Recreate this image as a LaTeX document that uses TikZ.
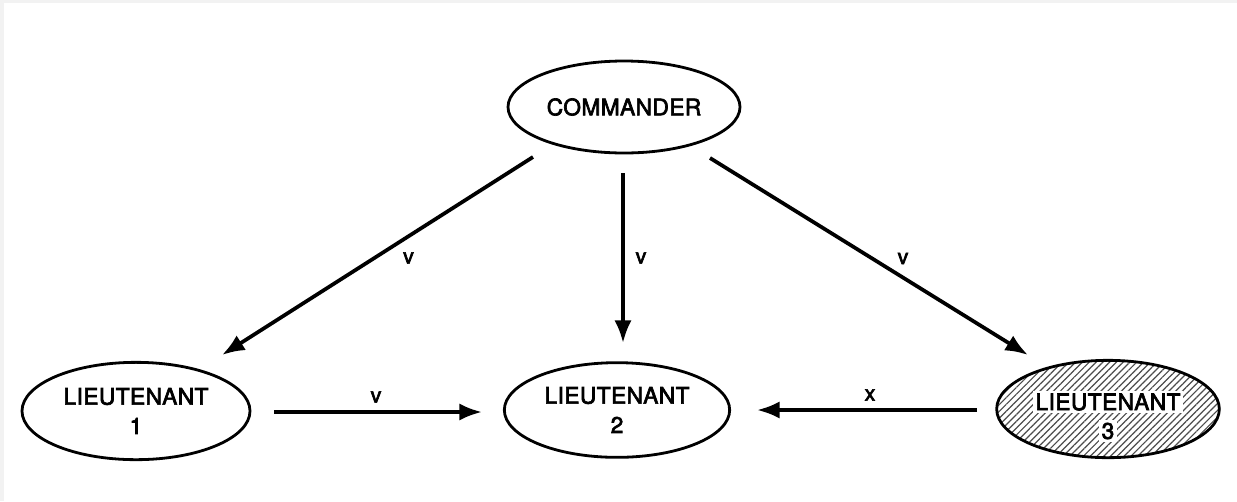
\documentclass[tikz,border=0pt]{standalone}
\usepackage{fontspec}
\newfontfamily\medfont{TeX Gyre Heros}[FakeBold=3,LetterSpace=2]
\usetikzlibrary{arrows.meta,calc,patterns.meta,shapes.geometric}
\tikzset{
  oval/.style={ellipse, draw=black, line width=2.1pt, inner sep=0pt,
    font=\medfont\fontsize{17}{22}\selectfont, align=center},
  arr/.style={line width=2.8pt, -{Latex[length=17pt,width=13pt]}},
  lbl/.style={font=\medfont\fontsize{16}{18}\selectfont, inner sep=0pt},
  hatch/.style={pattern={Lines[angle=45,distance=3.6pt,line width=0.9pt]}, pattern color=black!70},
  wlbl/.style={fill=white, inner sep=2pt, font=\medfont\fontsize{17}{22}\selectfont}
}
\begin{document}
\begin{tikzpicture}[x=0.75pt,y=-0.75pt]
\fill[black!5] (0,0) rectangle (1237,501);
\fill[white] (4,3) rectangle (1237,501);
\useasboundingbox (0,0) rectangle (1237,501);

\node[oval, minimum width=174pt, minimum height=69pt] (cmd) at (624,107) {COMMANDER};
\node[oval, minimum width=171pt, minimum height=73pt] (l1) at (136,411) {LIEUTENANT\\1};
\node[oval, minimum width=169pt, minimum height=71pt] (l2) at (617,410) {LIEUTENANT\\2};
\node[oval, hatch, minimum width=167pt, minimum height=73pt] (l3) at (1108,409) {};
\node[wlbl] (l3a) at ($(l3.center)+(0,-7)$) {LIEUTENANT};
\node[wlbl] (l3b) at ($(l3.center)+(0,22)$) {3};

\draw[arr] ($(cmd.center)+(-91,50)$) -- ($(l1.center)+(86,-56)$)
  node[lbl, midway, shift={(31,2)}] {v};
\draw[arr] ($(cmd.center)+(-1,66)$) -- ($(l2.center)+(6,-67)$)
  node[lbl, midway, shift={(18,0)}] {v};
\draw[arr] ($(cmd.center)+(86,51)$) -- ($(l3.center)+(-80,-54)$)
  node[lbl, midway, shift={(34,2)}] {v};
\draw[arr] ($(l1.center)+(138,1)$) -- ($(l2.center)+(-135,2)$)
  node[lbl, midway, shift={(-2,-15)}] {v};
\draw[arr] ($(l3.center)+(-131,1)$) -- ($(l2.center)+(140,0)$)
  node[lbl, midway, shift={(3,-15)}] {x};
\end{tikzpicture}
\end{document}
